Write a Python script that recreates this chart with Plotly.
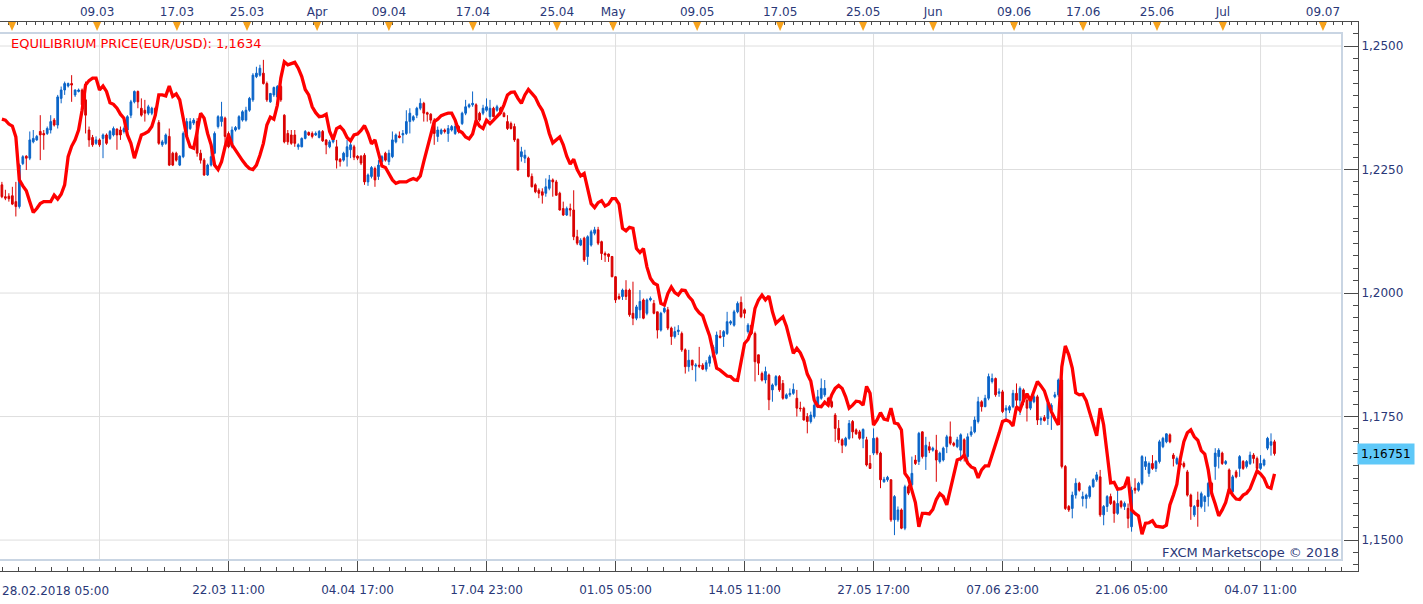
import plotly.graph_objects as go

# ---------------- data (6-hour bars, EUR/USD) ----------------
opens = [
1.2219,1.2195,1.2196,1.2197,1.2185,1.2175,1.2262,1.2277,1.2273,1.2306,
1.2310,1.2327,1.2323,1.2323,1.2330,1.2350,1.2340,1.2394,1.2411,1.2419,
1.2424,1.2401,1.2408,1.2411,1.2391,1.2330,1.2315,1.2303,1.2310,1.2313,
1.2320,1.2313,1.2320,1.2332,1.2330,1.2327,1.2330,1.2360,1.2387,1.2408,
1.2374,1.2370,1.2364,1.2364,1.2374,1.2345,1.2300,1.2303,1.2317,1.2283,
1.2283,1.2259,1.2276,1.2317,1.2333,1.2344,1.2347,1.2283,1.2269,1.2239,
1.2259,1.2283,1.2337,1.2347,1.2354,1.2323,1.2296,1.2330,1.2333,1.2350,
1.2350,1.2370,1.2391,1.2438,1.2441,1.2445,1.2424,1.2387,1.2401,1.2397,
1.2418,1.2360,1.2323,1.2320,1.2320,1.2296,1.2296,1.2313,1.2325,1.2323,
1.2320,1.2315,1.2327,1.2310,1.2296,1.2306,1.2296,1.2271,1.2269,1.2276,
1.2290,1.2296,1.2277,1.2277,1.2279,1.2225,1.2236,1.2252,1.2236,1.2266,
1.2283,1.2266,1.2276,1.2306,1.2318,1.2320,1.2323,1.2347,1.2350,1.2360,
1.2374,1.2384,1.2365,1.2362,1.2350,1.2317,1.2323,1.2330,1.2323,1.2330,
1.2323,1.2337,1.2343,1.2364,1.2377,1.2381,1.2381,1.2364,1.2364,1.2370,
1.2357,1.2374,1.2370,1.2374,1.2364,1.2347,1.2343,1.2337,1.2311,1.2276,
1.2273,1.2273,1.2236,1.2219,1.2208,1.2205,1.2202,1.2212,1.2229,1.2225,
1.2202,1.2171,1.2158,1.2171,1.2168,1.2114,1.2097,1.2111,1.2074,1.2097,
1.2121,1.2128,1.2104,1.2080,1.2079,1.2074,1.2033,1.1993,1.1993,1.2006,
1.2006,1.1959,1.1949,1.1966,1.1986,1.1959,1.1986,1.1979,1.1962,1.1925,
1.1962,1.1966,1.1929,1.1912,1.1922,1.1918,1.1885,1.1851,1.1864,1.1852,
1.1854,1.1854,1.1846,1.1858,1.1871,1.1878,1.1913,1.1912,1.1918,1.1939,
1.1935,1.1962,1.1981,1.1966,1.1922,1.1935,1.1918,1.1875,1.1837,1.1824,
1.1834,1.1804,1.1814,1.1831,1.1817,1.1787,1.1794,1.1797,1.1787,1.1767,
1.1767,1.1750,1.1740,1.1750,1.1770,1.1787,1.1794,1.1787,1.1780,1.1753,
1.1726,1.1703,1.1692,1.1706,1.1740,1.1723,1.1719,1.1706,1.1703,1.1655,
1.1676,1.1706,1.1676,1.1618,1.1622,1.1622,1.1541,1.1541,1.1561,1.1524,
1.1608,1.1612,1.1662,1.1659,1.1719,1.1669,1.1689,1.1682,1.1682,1.1659,
1.1662,1.1689,1.1709,1.1696,1.1689,1.1682,1.1703,1.1669,1.1713,1.1719,
1.1740,1.1780,1.1770,1.1787,1.1821,1.1827,1.1797,1.1800,1.1763,1.1763,
1.1770,1.1797,1.1783,1.1804,1.1783,1.1767,1.1780,1.1790,1.1743,1.1748,
1.1746,1.1763,1.1790,1.1794,1.1824,1.1649,1.1568,1.1564,1.1591,1.1615,
1.1584,1.1584,1.1588,1.1608,1.1622,1.1628,1.1551,1.1568,1.1588,1.1578,
1.1554,1.1578,1.1568,1.1564,1.1527,1.1605,1.1601,1.1615,1.1649,1.1635,
1.1655,1.1645,1.1659,1.1689,1.1699,1.1713,1.1672,1.1655,1.1655,1.1655,
1.1638,1.1591,1.1551,1.1581,1.1568,1.1578,1.1588,1.1615,1.1649,1.1669,
1.1676,1.1655,1.1642,1.1598,1.1638,1.1645,1.1659,1.1649,1.1655,1.1672,
1.1665,1.1645,1.1652,1.1686,1.1692,1.1699]

highs = [
1.2225,1.2209,1.2202,1.2215,1.2225,1.2262,1.2279,1.2279,1.2327,1.2330,
1.2320,1.2360,1.2330,1.2337,1.2360,1.2354,1.2401,1.2418,1.2428,1.2426,
1.2441,1.2412,1.2414,1.2414,1.2428,1.2337,1.2320,1.2317,1.2313,1.2323,
1.2323,1.2330,1.2337,1.2333,1.2337,1.2337,1.2360,1.2391,1.2410,1.2410,
1.2394,1.2391,1.2381,1.2377,1.2377,1.2350,1.2310,1.2323,1.2333,1.2286,
1.2286,1.2279,1.2327,1.2354,1.2354,1.2354,1.2354,1.2290,1.2273,1.2262,
1.2290,1.2327,1.2360,1.2387,1.2357,1.2327,1.2337,1.2338,1.2360,1.2370,
1.2377,1.2397,1.2445,1.2458,1.2462,1.2472,1.2428,1.2405,1.2418,1.2421,
1.2421,1.2362,1.2330,1.2330,1.2330,1.2303,1.2315,1.2330,1.2327,1.2327,
1.2327,1.2330,1.2330,1.2311,1.2310,1.2315,1.2310,1.2273,1.2286,1.2310,
1.2306,1.2300,1.2279,1.2279,1.2283,1.2242,1.2257,1.2256,1.2269,1.2279,
1.2286,1.2290,1.2327,1.2323,1.2327,1.2330,1.2370,1.2374,1.2360,1.2377,
1.2394,1.2387,1.2367,1.2364,1.2354,1.2337,1.2333,1.2333,1.2340,1.2340,
1.2343,1.2340,1.2367,1.2391,1.2384,1.2408,1.2384,1.2367,1.2381,1.2394,
1.2391,1.2377,1.2381,1.2377,1.2367,1.2360,1.2347,1.2343,1.2313,1.2296,
1.2290,1.2276,1.2242,1.2222,1.2212,1.2212,1.2232,1.2239,1.2232,1.2229,
1.2205,1.2185,1.2175,1.2181,1.2208,1.2128,1.2111,1.2114,1.2117,1.2128,
1.2134,1.2134,1.2106,1.2084,1.2080,1.2075,1.2034,1.1999,1.2009,1.2026,
1.2009,1.2023,1.1976,1.2006,1.1989,1.1989,1.1993,1.1986,1.1962,1.1962,
1.1976,1.1972,1.1932,1.1932,1.1935,1.1922,1.1888,1.1885,1.1865,1.1858,
1.1891,1.1858,1.1864,1.1875,1.1895,1.1922,1.1925,1.1925,1.1962,1.1945,
1.1966,1.1983,1.1993,1.1969,1.1939,1.1939,1.1922,1.1875,1.1841,1.1851,
1.1837,1.1817,1.1834,1.1834,1.1824,1.1797,1.1807,1.1817,1.1804,1.1780,
1.1770,1.1757,1.1760,1.1794,1.1804,1.1827,1.1824,1.1790,1.1784,1.1757,
1.1743,1.1706,1.1709,1.1743,1.1743,1.1726,1.1723,1.1726,1.1709,1.1672,
1.1726,1.1709,1.1679,1.1628,1.1630,1.1623,1.1591,1.1568,1.1564,1.1612,
1.1612,1.1669,1.1672,1.1719,1.1720,1.1709,1.1699,1.1689,1.1713,1.1679,
1.1689,1.1713,1.1740,1.1699,1.1709,1.1716,1.1706,1.1716,1.1730,1.1750,
1.1790,1.1783,1.1794,1.1837,1.1837,1.1829,1.1807,1.1804,1.1773,1.1773,
1.1804,1.1817,1.1811,1.1807,1.1794,1.1790,1.1794,1.1794,1.1750,1.1753,
1.1780,1.1777,1.1800,1.1827,1.1831,1.1652,1.1571,1.1598,1.1625,1.1618,
1.1598,1.1594,1.1611,1.1625,1.1638,1.1642,1.1571,1.1591,1.1594,1.1581,
1.1601,1.1581,1.1578,1.1574,1.1608,1.1625,1.1618,1.1672,1.1669,1.1659,
1.1672,1.1662,1.1703,1.1709,1.1716,1.1716,1.1676,1.1669,1.1659,1.1659,
1.1642,1.1594,1.1571,1.1598,1.1598,1.1591,1.1618,1.1618,1.1686,1.1686,
1.1679,1.1662,1.1645,1.1632,1.1642,1.1672,1.1662,1.1662,1.1679,1.1676,
1.1669,1.1672,1.1665,1.1709,1.1716,1.1703]

lows = [
1.2192,1.2188,1.2185,1.2178,1.2155,1.2171,1.2259,1.2249,1.2269,1.2303,
1.2308,1.2269,1.2290,1.2320,1.2323,1.2337,1.2333,1.2384,1.2401,1.2416,
1.2387,1.2397,1.2406,1.2377,1.2323,1.2296,1.2296,1.2300,1.2296,1.2273,
1.2300,1.2310,1.2317,1.2290,1.2310,1.2323,1.2327,1.2354,1.2384,1.2374,
1.2357,1.2347,1.2360,1.2360,1.2357,1.2300,1.2296,1.2300,1.2257,1.2257,
1.2266,1.2257,1.2273,1.2313,1.2330,1.2340,1.2276,1.2262,1.2237,1.2237,
1.2256,1.2281,1.2333,1.2337,1.2296,1.2293,1.2293,1.2327,1.2330,1.2347,
1.2347,1.2367,1.2387,1.2435,1.2438,1.2422,1.2387,1.2385,1.2397,1.2394,
1.2387,1.2303,1.2300,1.2300,1.2296,1.2290,1.2295,1.2311,1.2318,1.2313,
1.2318,1.2313,1.2306,1.2281,1.2293,1.2303,1.2252,1.2256,1.2266,1.2256,
1.2273,1.2269,1.2269,1.2259,1.2219,1.2217,1.2232,1.2215,1.2229,1.2263,
1.2266,1.2259,1.2273,1.2303,1.2313,1.2303,1.2320,1.2323,1.2347,1.2354,
1.2370,1.2347,1.2347,1.2343,1.2300,1.2306,1.2320,1.2323,1.2306,1.2327,
1.2320,1.2323,1.2340,1.2360,1.2374,1.2377,1.2337,1.2347,1.2360,1.2367,
1.2350,1.2356,1.2367,1.2360,1.2356,1.2330,1.2331,1.2306,1.2248,1.2266,
1.2263,1.2234,1.2214,1.2202,1.2192,1.2181,1.2195,1.2208,1.2195,1.2197,
1.2167,1.2156,1.2156,1.2155,1.2107,1.2097,1.2095,1.2063,1.2057,1.2094,
1.2117,1.2097,1.2067,1.2063,1.2063,1.2032,1.1980,1.1986,1.1986,1.1986,
1.1952,1.1935,1.1945,1.1949,1.1947,1.1955,1.1983,1.1957,1.1908,1.1922,
1.1959,1.1925,1.1895,1.1908,1.1915,1.1881,1.1837,1.1841,1.1844,1.1821,
1.1848,1.1844,1.1841,1.1851,1.1868,1.1875,1.1908,1.1891,1.1915,1.1935,
1.1932,1.1959,1.1949,1.1949,1.1918,1.1915,1.1821,1.1834,1.1821,1.1817,
1.1763,1.1780,1.1811,1.1800,1.1784,1.1785,1.1790,1.1794,1.1750,1.1760,
1.1742,1.1716,1.1736,1.1746,1.1767,1.1784,1.1790,1.1770,1.1767,1.1699,
1.1696,1.1676,1.1689,1.1703,1.1706,1.1713,1.1703,1.1686,1.1649,1.1644,
1.1672,1.1672,1.1605,1.1616,1.1618,1.1537,1.1510,1.1537,1.1522,1.1520,
1.1591,1.1608,1.1652,1.1652,1.1665,1.1642,1.1676,1.1679,1.1618,1.1655,
1.1659,1.1676,1.1692,1.1689,1.1686,1.1659,1.1659,1.1662,1.1709,1.1716,
1.1736,1.1760,1.1769,1.1783,1.1817,1.1790,1.1790,1.1757,1.1743,1.1757,
1.1767,1.1770,1.1753,1.1773,1.1740,1.1763,1.1777,1.1733,1.1733,1.1740,
1.1733,1.1723,1.1787,1.1790,1.1645,1.1561,1.1557,1.1544,1.1584,1.1598,
1.1568,1.1564,1.1584,1.1606,1.1618,1.1547,1.1530,1.1557,1.1571,1.1535,
1.1551,1.1564,1.1561,1.1524,1.1517,1.1594,1.1598,1.1611,1.1642,1.1628,
1.1642,1.1638,1.1655,1.1686,1.1696,1.1696,1.1649,1.1652,1.1649,1.1645,
1.1588,1.1541,1.1547,1.1527,1.1564,1.1557,1.1568,1.1598,1.1622,1.1645,
1.1652,1.1652,1.1594,1.1594,1.1625,1.1628,1.1642,1.1645,1.1652,1.1655,
1.1642,1.1642,1.1649,1.1682,1.1671,1.1671]

closes = [
1.2195,1.2192,1.2191,1.2180,1.2175,1.2259,1.2276,1.2273,1.2310,1.2313,
1.2317,1.2320,1.2320,1.2333,1.2347,1.2340,1.2397,1.2411,1.2424,1.2424,
1.2421,1.2411,1.2411,1.2381,1.2360,1.2310,1.2300,1.2310,1.2300,1.2320,
1.2303,1.2327,1.2333,1.2320,1.2320,1.2333,1.2357,1.2387,1.2408,1.2387,
1.2360,1.2364,1.2377,1.2374,1.2360,1.2303,1.2306,1.2320,1.2259,1.2259,
1.2269,1.2277,1.2323,1.2347,1.2347,1.2350,1.2283,1.2269,1.2239,1.2259,
1.2276,1.2323,1.2357,1.2357,1.2317,1.2296,1.2330,1.2335,1.2357,1.2367,
1.2370,1.2394,1.2441,1.2445,1.2455,1.2424,1.2391,1.2404,1.2416,1.2418,
1.2391,1.2306,1.2306,1.2303,1.2303,1.2300,1.2313,1.2327,1.2320,1.2317,
1.2323,1.2327,1.2308,1.2300,1.2306,1.2313,1.2269,1.2266,1.2283,1.2296,
1.2300,1.2275,1.2273,1.2263,1.2225,1.2239,1.2254,1.2229,1.2259,1.2276,
1.2269,1.2283,1.2310,1.2320,1.2315,1.2323,1.2347,1.2364,1.2357,1.2374,
1.2384,1.2364,1.2362,1.2350,1.2323,1.2330,1.2330,1.2327,1.2333,1.2337,
1.2337,1.2327,1.2364,1.2377,1.2381,1.2384,1.2343,1.2350,1.2374,1.2377,
1.2374,1.2357,1.2377,1.2364,1.2357,1.2333,1.2333,1.2310,1.2249,1.2286,
1.2279,1.2236,1.2215,1.2205,1.2202,1.2198,1.2215,1.2229,1.2225,1.2198,
1.2168,1.2158,1.2171,1.2168,1.2114,1.2101,1.2107,1.2067,1.2114,1.2124,
1.2128,1.2101,1.2080,1.2077,1.2074,1.2033,1.1986,1.1989,1.2006,1.1993,
1.1956,1.1949,1.1972,1.1983,1.1949,1.1986,1.1989,1.1959,1.1925,1.1959,
1.1969,1.1929,1.1912,1.1922,1.1925,1.1885,1.1851,1.1864,1.1854,1.1854,
1.1852,1.1846,1.1859,1.1871,1.1891,1.1915,1.1910,1.1922,1.1942,1.1942,
1.1962,1.1979,1.1952,1.1959,1.1935,1.1918,1.1861,1.1858,1.1824,1.1841,
1.1784,1.1814,1.1831,1.1804,1.1787,1.1794,1.1797,1.1805,1.1767,1.1766,
1.1743,1.1740,1.1753,1.1773,1.1790,1.1807,1.1807,1.1780,1.1770,1.1726,
1.1703,1.1692,1.1706,1.1736,1.1719,1.1715,1.1706,1.1724,1.1652,1.1645,
1.1706,1.1676,1.1622,1.1623,1.1627,1.1541,1.1588,1.1561,1.1524,1.1608,
1.1595,1.1635,1.1655,1.1716,1.1669,1.1692,1.1682,1.1686,1.1662,1.1676,
1.1686,1.1709,1.1696,1.1692,1.1703,1.1713,1.1669,1.1709,1.1719,1.1743,
1.1780,1.1770,1.1787,1.1831,1.1827,1.1794,1.1800,1.1760,1.1767,1.1770,
1.1797,1.1783,1.1807,1.1780,1.1767,1.1783,1.1790,1.1743,1.1746,1.1742,
1.1777,1.1773,1.1794,1.1824,1.1649,1.1564,1.1561,1.1591,1.1615,1.1601,
1.1588,1.1591,1.1608,1.1622,1.1632,1.1551,1.1568,1.1588,1.1574,1.1554,
1.1574,1.1568,1.1574,1.1544,1.1601,1.1601,1.1615,1.1669,1.1659,1.1655,
1.1645,1.1659,1.1699,1.1706,1.1715,1.1699,1.1665,1.1665,1.1652,1.1649,
1.1591,1.1568,1.1568,1.1568,1.1594,1.1588,1.1615,1.1601,1.1676,1.1682,
1.1655,1.1659,1.1598,1.1628,1.1628,1.1669,1.1645,1.1659,1.1672,1.1665,
1.1645,1.1655,1.1662,1.1706,1.1699,1.16751]

equilibrium = [
1.2352,1.2350,1.2342,1.2338,1.2316,1.2229,1.2217,1.2207,1.2185,1.2163,
1.2171,1.2181,1.2185,1.2185,1.2185,1.2198,1.2190,1.2200,1.2219,1.2276,
1.2297,1.2310,1.2330,1.2370,1.2421,1.2430,1.2435,1.2435,1.2411,1.2419,
1.2408,1.2385,1.2382,1.2374,1.2362,1.2354,1.2320,1.2303,1.2273,1.2297,
1.2320,1.2323,1.2327,1.2337,1.2360,1.2401,1.2401,1.2399,1.2419,1.2398,
1.2403,1.2391,1.2350,1.2317,1.2296,1.2293,1.2327,1.2364,1.2354,1.2323,
1.2300,1.2259,1.2250,1.2266,1.2296,1.2320,1.2300,1.2289,1.2277,1.2268,
1.2259,1.2252,1.2250,1.2259,1.2279,1.2303,1.2340,1.2356,1.2352,1.2380,
1.2435,1.2468,1.2462,1.2465,1.2467,1.2455,1.2438,1.2412,1.2401,1.2377,
1.2365,1.2357,1.2358,1.2362,1.2327,1.2311,1.2333,1.2337,1.2329,1.2315,
1.2308,1.2320,1.2322,1.2329,1.2339,1.2323,1.2302,1.2310,1.2283,1.2257,
1.2254,1.2242,1.2229,1.2222,1.2225,1.2225,1.2225,1.2229,1.2232,1.2229,
1.2237,1.2266,1.2293,1.2316,1.2347,1.2352,1.2359,1.2362,1.2364,1.2364,
1.2350,1.2329,1.2325,1.2316,1.2312,1.2322,1.2349,1.2338,1.2333,1.2350,
1.2343,1.2350,1.2358,1.2365,1.2381,1.2401,1.2406,1.2407,1.2394,1.2384,
1.2401,1.2412,1.2404,1.2396,1.2381,1.2370,1.2350,1.2323,1.2304,1.2310,
1.2316,1.2300,1.2277,1.2261,1.2271,1.2250,1.2237,1.2242,1.2208,1.2181,
1.2173,1.2183,1.2187,1.2176,1.2180,1.2191,1.2191,1.2180,1.2131,1.2126,
1.2133,1.2131,1.2090,1.2082,1.2090,1.2053,1.2030,1.2020,1.2016,1.1979,
1.1976,1.1999,1.2012,1.2001,1.1996,1.2006,1.2005,1.1993,1.1985,1.1969,
1.1960,1.1954,1.1933,1.1913,1.1881,1.1848,1.1844,1.1837,1.1832,1.1831,
1.1824,1.1823,1.1858,1.1898,1.1906,1.1925,1.1969,1.1986,1.1996,1.1986,
1.1994,1.1962,1.1939,1.1945,1.1952,1.1933,1.1905,1.1878,1.1888,1.1879,
1.1863,1.1836,1.1822,1.1783,1.1771,1.1770,1.1779,1.1773,1.1794,1.1807,
1.1813,1.1807,1.1790,1.1767,1.1773,1.1781,1.1780,1.1773,1.1811,1.1797,
1.1733,1.1743,1.1758,1.1745,1.1743,1.1767,1.1737,1.1735,1.1723,1.1635,
1.1625,1.1600,1.1576,1.1527,1.1554,1.1554,1.1553,1.1562,1.1582,1.1594,
1.1588,1.1571,1.1603,1.1636,1.1662,1.1665,1.1672,1.1656,1.1648,1.1645,
1.1626,1.1642,1.1650,1.1650,1.1672,1.1689,1.1716,1.1740,1.1743,1.1740,
1.1731,1.1770,1.1763,1.1783,1.1796,1.1782,1.1804,1.1821,1.1812,1.1802,
1.1780,1.1760,1.1746,1.1733,1.1851,1.1893,1.1875,1.1848,1.1798,1.1794,
1.1795,1.1782,1.1758,1.1736,1.1711,1.1767,1.1733,1.1675,1.1616,1.1617,
1.1603,1.1604,1.1608,1.1628,1.1561,1.1554,1.1549,1.1512,1.1534,1.1535,
1.1539,1.1528,1.1527,1.1526,1.1530,1.1571,1.1591,1.1613,1.1665,1.1699,
1.1717,1.1723,1.1709,1.1702,1.1681,1.1674,1.1642,1.1594,1.1573,1.1549,
1.1561,1.1576,1.1603,1.1591,1.1583,1.1582,1.1591,1.1595,1.1604,1.1623,
1.1640,1.1634,1.1625,1.1608,1.1605,1.1634]

# bottom time axis (bar positions and labels)
bottom_tick_pos = [28, 65, 102, 139, 176, 213, 250, 287, 324, 361]
bottom_tick_text = ["", "22.03 11:00", "04.04 17:00", "17.04 23:00", "01.05 05:00",
                    "14.05 11:00", "27.05 17:00", "07.06 23:00", "21.06 05:00", "04.07 11:00"]
first_bar_label = "28.02.2018 05:00"

# top calendar axis (bar positions and labels)
top_tick_pos = [2.9, 27.3, 50.2, 70.3, 90.4, 111.0, 135.1, 159.2, 175.3, 199.4,
                223.2, 247.0, 267.1, 290.3, 310.1, 331.3, 350.2, 378.9]
top_tick_text = ["", "09.03", "17.03", "25.03", "Apr", "09.04", "17.04", "25.04", "May", "09.05",
                 "17.05", "25.05", "Jun", "09.06", "17.06", "25.06", "Jul", "09.07"]

price_ticks = [1.15, 1.175, 1.20, 1.225, 1.25]

# ---------------- style / layout constants ----------------
W, H = 1423, 604
ML, MR, MT, MB = 0, 65, 22, 33
PH = H - MT - MB           # plot height in px
PW = W - ML - MR           # plot width in px
X_RANGE = [-0.545, 388.95]
Y_RANGE = [1.14374, 1.25486]
PANEL_RIGHT = 1342 / PW
PANEL_TOP = (PH - (33 - MT)) / PH
PANEL_BOTTOM = (PH - (560 - MT)) / PH

NAVY = "#2A3878"
AXC = "#4A4A4A"
GRID = "#DEDEDE"
FONT = "DejaVu Sans"

bars = list(range(len(closes)))

fig = go.Figure()
fig.add_trace(go.Candlestick(
    x=bars, open=opens, high=highs, low=lows, close=closes,
    increasing=dict(line=dict(color="#0A64C8", width=1), fillcolor="#0A64C8"),
    decreasing=dict(line=dict(color="#DA0000", width=1), fillcolor="#DA0000"),
    whiskerwidth=0, showlegend=False, hoverinfo="skip"))
fig.add_trace(go.Scatter(
    x=bars, y=equilibrium, mode="lines",
    line=dict(color="#FF0000", width=3.3), showlegend=False, hoverinfo="skip"))
# invisible trace so the top axis is rendered
fig.add_trace(go.Scatter(x=[top_tick_pos[1]], y=[closes[0]], xaxis="x2", mode="markers",
                         marker=dict(opacity=0), showlegend=False, hoverinfo="skip"))

shapes = []
# vertical grid lines
for p in bottom_tick_pos:
    shapes.append(dict(type="line", xref="x", yref="paper", x0=p, x1=p,
                       y0=PANEL_BOTTOM, y1=PANEL_TOP, line=dict(color=GRID, width=1), layer="below"))
# horizontal grid lines
for v in price_ticks:
    shapes.append(dict(type="line", xref="paper", yref="y", x0=0, x1=PANEL_RIGHT,
                       y0=v, y1=v, line=dict(color=GRID, width=1), layer="below"))
# panel border
shapes.append(dict(type="rect", xref="paper", yref="paper", x0=-0.01, x1=PANEL_RIGHT,
                   y0=PANEL_BOTTOM, y1=PANEL_TOP, line=dict(color="#C9D5E3", width=2),
                   fillcolor="rgba(0,0,0,0)", layer="below"))
# orange markers on the top axis
tri_half = 4 / (PW / (X_RANGE[1] - X_RANGE[0]))
tri_apex = (PH - 9) / PH
for p in top_tick_pos:
    shapes.append(dict(type="path", xref="x", yref="paper",
                       path=f"M {p - tri_half},1 L {p + tri_half},1 L {p},{tri_apex} Z",
                       fillcolor="#F7A21B", line=dict(width=0)))

minor_bottom = [28 - 37 + k * 37 / 8 for k in range(0, 95)]
minor_top = [-0.5 + k * 2.5 for k in range(0, 157)]

eq_text = f"EQUILIBRIUM PRICE(EUR/USD): {equilibrium[-1]:.4f}".replace(".", ",")
last_text = f"{closes[-1]:.5f}".replace(".", ",")

annotations = [
    dict(text=eq_text, xref="paper", yref="paper", x=9 / PW, y=(PH - (44 - MT)) / PH,
         xanchor="left", yanchor="middle", showarrow=False,
         font=dict(family=FONT, size=13, color="#FF0000")),
    dict(text="FXCM Marketscope © 2018", xref="paper", yref="paper", x=1341 / PW,
         y=(PH - (552 - MT)) / PH, xanchor="right", yanchor="middle", showarrow=False,
         font=dict(family=FONT, size=13, color=NAVY)),
    dict(text=last_text, xref="paper", yref="y", x=1, y=closes[-1], xanchor="left",
         yanchor="middle", showarrow=False, xshift=-1, bgcolor="#5EC8F8", borderpad=3,
         font=dict(family=FONT, size=12, color="#000000")),
    dict(text=first_bar_label, xref="paper", yref="paper", x=0, y=-(591 - (H - MB)) / PH,
         xanchor="left", yanchor="middle", showarrow=False,
         font=dict(family=FONT, size=12, color=NAVY)),
]

fig.update_layout(
    width=W, height=H, margin=dict(l=ML, r=MR, t=MT, b=MB),
    paper_bgcolor="white", plot_bgcolor="white", separators=",.",
    showlegend=False, shapes=shapes, annotations=annotations,
    xaxis=dict(range=X_RANGE, domain=[0, 1], showgrid=False, zeroline=False,
               rangeslider=dict(visible=False), tickmode="array",
               tickvals=bottom_tick_pos, ticktext=bottom_tick_text,
               ticks="inside", ticklen=10, tickcolor=AXC, tickwidth=1,
               showline=True, linecolor=AXC, linewidth=1,
               minor=dict(tickmode="array", tickvals=minor_bottom, ticks="inside",
                          ticklen=4, tickcolor=AXC, showgrid=False),
               tickfont=dict(family=FONT, size=12, color=NAVY), ticklabelstandoff=8),
    xaxis2=dict(range=X_RANGE, overlaying="x", side="top", anchor="y", showgrid=False,
                zeroline=False, tickmode="array", tickvals=top_tick_pos, ticktext=top_tick_text,
                ticks="inside", ticklen=4, tickcolor=AXC, showline=True, linecolor=AXC,
                linewidth=1,
                minor=dict(tickmode="array", tickvals=minor_top, ticks="inside",
                           ticklen=3, tickcolor=AXC, showgrid=False),
                tickfont=dict(family=FONT, size=12, color=NAVY)),
    yaxis=dict(range=Y_RANGE, domain=[0, 1], side="right", showgrid=False, zeroline=False,
               tickmode="linear", tick0=1.15, dtick=0.025, tickformat=".4f",
               ticks="inside", ticklen=14, tickcolor=AXC, showline=True, linecolor=AXC,
               linewidth=1,
               minor=dict(tick0=1.15, dtick=0.0025, ticks="inside", ticklen=5,
                          tickcolor=AXC, showgrid=False),
               tickfont=dict(family=FONT, size=12, color=NAVY)),
)

fig.write_html("out.html")
